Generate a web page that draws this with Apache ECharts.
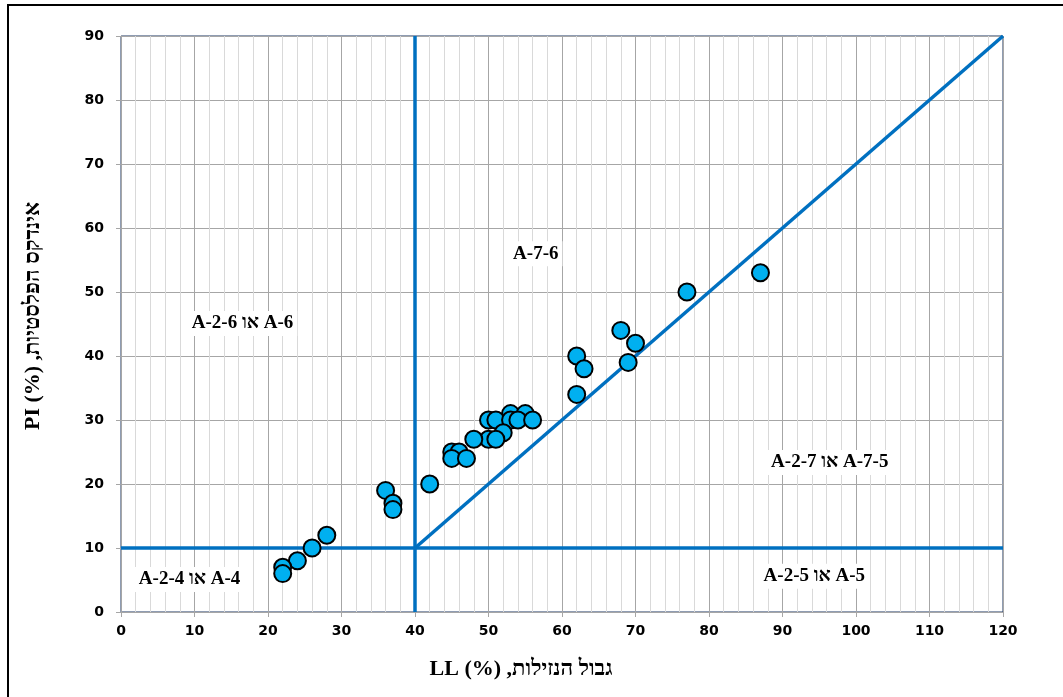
<!DOCTYPE html>
<html>
<head>
<meta charset="utf-8">
<script src="https://cdn.jsdelivr.net/npm/echarts@6/dist/echarts.min.js"></script>
<style>
html,body{margin:0;padding:0;background:#fff;}
#c{width:1063px;height:697px;}
</style>
</head>
<body>
<div id="c"></div>
<script>
// Liquid limit LL (%)
const llValues = [87, 77, 68, 70, 62, 63, 69, 62, 53, 55, 50, 51, 53, 54, 56, 52, 50, 51, 48, 45, 46, 45, 47, 42, 36, 37, 37, 28, 26, 24, 22, 22];
// Plasticity index PI (%)
const piValues = [53, 50, 44, 42, 40, 38, 39, 34, 31, 31, 30, 30, 30, 30, 30, 28, 27, 27, 27, 25, 25, 24, 24, 20, 19, 17, 16, 12, 10, 8, 7, 6];

// Classification boundary lines
const verticalBoundary = [[40, 0], [40, 90]];
const horizontalBoundary = [[0, 10], [120, 10]];
const diagonalBoundary = [[40, 10], [120, 90]];

// Zone labels [LL, PI, text]
const zoneLabels = [
  [56.5, 55.9, 'A-7-6'],
  [16.6, 45, 'A-2-6 או A-6'],
  [96.5, 23.3, 'A-2-7 או A-7-5'],
  [94.4, 5.5, 'A-2-5 או A-5'],
  [9.4, 5, 'A-2-4 או A-4']
];

const xTitle = 'LL (%) \u202Bגבול הנזילות,\u202C';
const yTitle = 'PI (%) \u202Bאינדקס הפלסטיות,\u202C';

const points = llValues.map((v, i) => [v, piValues[i]]);
const lineColor = '#0070C0';
const tickFont = {color: '#000', fontWeight: 'bold', fontSize: 14, fontFamily: 'DejaVu Sans'};

const chart = echarts.init(document.getElementById('c'), null, {renderer: 'canvas'});
chart.setOption({
  animation: false,
  backgroundColor: '#fff',
  grid: {left: 121, right: 60, top: 36, bottom: 85, show: true, borderColor: '#1F3864', borderWidth: 1, backgroundColor: 'transparent'},
  xAxis: {
    type: 'value', min: 0, max: 120, interval: 10,
    axisLine: {show: true, onZero: false, lineStyle: {color: '#A6A6A6', width: 1}},
    axisTick: {show: true, length: 5, lineStyle: {color: '#A6A6A6'}},
    axisLabel: Object.assign({margin: 12}, tickFont),
    splitLine: {show: true, lineStyle: {color: '#A6A6A6', width: 1}},
    minorTick: {show: false, splitNumber: 5},
    minorSplitLine: {show: true, lineStyle: {color: '#D9D9D9', width: 1}}
  },
  yAxis: {
    type: 'value', min: 0, max: 90, interval: 10,
    axisLine: {show: true, onZero: false, lineStyle: {color: '#A6A6A6', width: 1}},
    axisTick: {show: true, length: 5, lineStyle: {color: '#A6A6A6'}},
    axisLabel: Object.assign({margin: 17}, tickFont),
    splitLine: {show: true, lineStyle: {color: '#A6A6A6', width: 1}}
  },
  graphic: [
    {type: 'rect', shape: {x: 8, y: 5, width: 1080, height: 720}, style: {fill: 'none', stroke: '#000', lineWidth: 2}, z: 0, silent: true},
    {type: 'text', x: 521, y: 669, style: {text: xTitle, font: 'bold 22px "Liberation Serif"', fill: '#000', textAlign: 'center', textVerticalAlign: 'middle'}, z: 10},
    {type: 'text', x: 33, y: 316, rotation: Math.PI / 2, style: {text: yTitle, font: 'bold 22px "Liberation Serif"', fill: '#000', textAlign: 'center', textVerticalAlign: 'middle'}, z: 10}
  ],
  series: [
    {type: 'line', data: verticalBoundary, symbol: 'none', lineStyle: {color: lineColor, width: 3.5}, z: 3, silent: true},
    {type: 'line', data: horizontalBoundary, symbol: 'none', lineStyle: {color: lineColor, width: 3.5}, z: 3, silent: true},
    {type: 'line', data: diagonalBoundary, symbol: 'none', lineStyle: {color: lineColor, width: 3.5}, z: 3, silent: true},
    {
      type: 'scatter', data: zoneLabels.map(d => [d[0], d[1], d[2]]), symbolSize: 1, z: 4, silent: true,
      itemStyle: {color: '#fff', opacity: 1},
      label: {show: true, position: [0, 0], align: 'center', verticalAlign: 'middle', formatter: p => p.data[2], color: '#000', opacity: 1, textBorderWidth: 0, fontWeight: 'bold', fontSize: 19, fontFamily: 'Liberation Serif', backgroundColor: '#fff', padding: [3, 4]}
    },
    {
      type: 'scatter', data: points, symbol: 'circle', symbolSize: 17, z: 5,
      itemStyle: {color: '#00B0F0', borderColor: '#000', borderWidth: 2, opacity: 1}
    }
  ]
});
</script>
</body>
</html>
